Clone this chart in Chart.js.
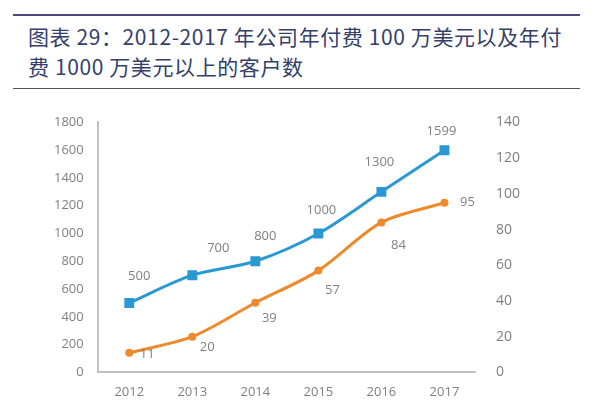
<!DOCTYPE html>
<html>
<head>
<meta charset="utf-8">
<script src="https://cdn.jsdelivr.net/npm/chart.js@4/dist/chart.umd.min.js"></script>
<style>
  body { margin: 0; width: 600px; height: 405px; background: #fff; position: relative; overflow: hidden; font-family: "Noto Sans CJK SC", "Noto Sans", sans-serif; }
  #topLine { position: absolute; left: 13px; top: 14px; width: 567px; height: 2px; background: #4b4a78; }
  #title { position: absolute; left: 28px; top: 21px; font-size: 21px; letter-spacing: 0.6px; line-height: 30px; color: #34406a; }
  #bottomLine { position: absolute; left: 13px; top: 88px; width: 567px; height: 1px; background: #555; }
  #wrap { position: absolute; left: 0; top: 94px; width: 600px; height: 322px; }
</style>
</head>
<body>
<div id="topLine"></div>
<div id="title">图表 29：2012-2017 年公司年付费 100 万美元以及年付<br>费 1000 万美元以上的客户数</div>
<div id="bottomLine"></div>
<div id="wrap"><canvas id="myChart"></canvas></div>
<script>
// years along the bottom
let years = ['2012', '2013', '2014', '2015', '2016', '2017']
// customers paying over 1 million (left axis)
let over100 = [500, 700, 800, 1000, 1300, 1599]
// customers paying over 10 million (right axis)
let over1000 = [11, 20, 39, 57, 84, 95]

let blue = '#2a98d3'
let orange = '#ee8a2c'
let grey = '#808080'

// where each number sits next to its point (dx, dy)
let labelOffsets = [
    [[10, -27], [26, -27], [10, -25], [3, -23], [-2, -30], [-3, -19]],
    [[18, 2], [15, 11], [14, 16], [14, 20], [17, 23], [23, 0]]
]

// draws the little number next to each point
let labelPlugin = {
    id: 'pointLabels',
    afterDatasetsDraw: function(chart) {
        let ctx = chart.ctx
        ctx.save()
        ctx.font = '13px "Open Sans"'
        ctx.fillStyle = grey
        ctx.textAlign = 'center'
        ctx.textBaseline = 'middle'
        chart.data.datasets.forEach(function(ds, d) {
            let meta = chart.getDatasetMeta(d)
            meta.data.forEach(function(pt, i) {
                let off = labelOffsets[d][i]
                ctx.fillText(ds.data[i], pt.x + off[0], pt.y + off[1])
            })
        })
        ctx.restore()
    }
}

let ctx = document.getElementById('myChart').getContext('2d')
let chart = new Chart(ctx, {
    type: 'line',
    data: {
        labels: years,
        datasets: [{
            data: over100,
            yAxisID: 'y',
            borderColor: blue,
            backgroundColor: blue,
            borderWidth: 3,
            tension: 0.3,
            pointStyle: 'rect',
            pointRadius: 7,
            pointBorderWidth: 0
        }, {
            data: over1000,
            yAxisID: 'y1',
            borderColor: orange,
            backgroundColor: orange,
            borderWidth: 3,
            tension: 0.3,
            pointStyle: 'circle',
            pointRadius: 4,
            pointBorderWidth: 0
        }]
    },
    options: {
        responsive: true,
        maintainAspectRatio: false,
        animation: false,
        layout: { padding: { left: 40, right: 60, top: 4, bottom: 4 } },
        plugins: { legend: { display: false }, tooltip: { enabled: false } },
        scales: {
            x: {
                offset: true,
                grid: { display: false, drawTicks: false },
                border: { color: '#c0c0c0', width: 2 },
                ticks: { color: grey, font: { size: 13, family: 'Open Sans' }, padding: 12 }
            },
            y: {
                position: 'left',
                min: 0, max: 1800,
                grid: { display: false, drawTicks: false },
                border: { color: '#c0c0c0', width: 2 },
                ticks: { stepSize: 200, color: grey, font: { size: 13, family: 'Open Sans' }, padding: 14,
                    callback: function(v) { return String(v) } }
            },
            y1: {
                position: 'right',
                min: 0, max: 140,
                grid: { display: false, drawTicks: false },
                border: { display: false },
                ticks: { stepSize: 20, color: grey, font: { size: 14, family: 'Open Sans' }, padding: 20 }
            }
        }
    },
    plugins: [labelPlugin]
})
</script>
</body>
</html>
